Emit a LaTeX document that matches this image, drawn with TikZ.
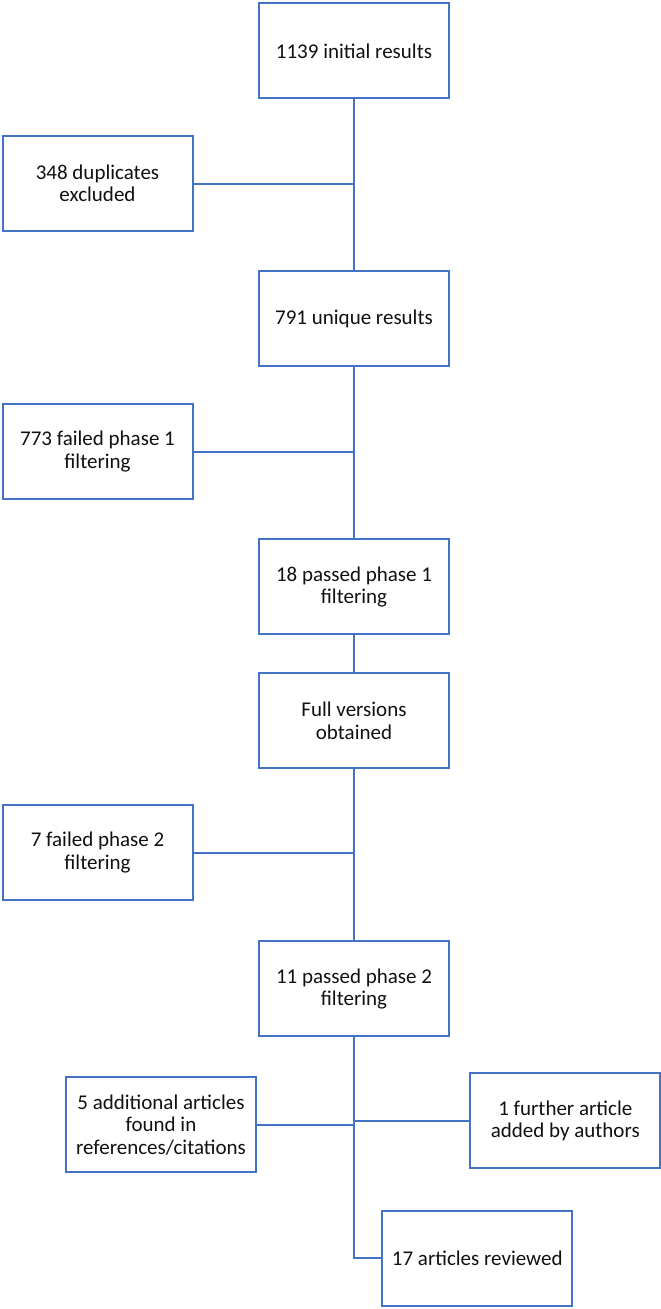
\documentclass[tikz,border=0pt]{standalone}
\usepackage{fontspec}
\setmainfont{Carlito}
\definecolor{boxblue}{HTML}{4472C4}
\definecolor{txt}{HTML}{111111}
\begin{document}
\begin{tikzpicture}[x=1pt,y=-1pt,
  box/.style={draw=boxblue,line width=2pt,fill=white,minimum width=190pt,minimum height=95pt,
    align=center,text=txt,font=\fontsize{21}{22.5}\selectfont,inner sep=2pt},
  link/.style={draw=boxblue,line width=2pt}]
\useasboundingbox (0,0) rectangle (661,1309);
\node[box] (b1) at (354,50.8) {1139 initial results};
\node[box] (b2) at (97.5,183.5) {348 duplicates\\excluded};
\node[box] (b3) at (354,318.5) {791 unique results};
\node[box] (b4) at (97.5,451.7) {773 failed phase 1\\filtering};
\node[box] (b5) at (354,586.8) {18 passed phase 1\\filtering};
\node[box] (b6) at (354,720.8) {Full versions\\obtained};
\node[box] (b7) at (97.5,852.5) {7 failed phase 2\\filtering};
\node[box] (b8) at (354,988.9) {11 passed phase 2\\filtering};
\node[box] (b9) at (161,1124.7) {5 additional articles\\found in\\references/citations};
\node[box] (b10) at (565.3,1120.8) {1 further article\\added by authors};
\node[box] (b11) at (477.2,1258) {17 articles reviewed};
\coordinate (t11) at (b8.south |- b11.west);
\draw[link] (b1.south) -- (b3.north);
\draw[link] (b2.east) -- (b2.east -| b1.south);
\draw[link] (b3.south) -- (b5.north);
\draw[link] (b4.east) -- (b4.east -| b3.south);
\draw[link] (b5.south) -- (b6.north);
\draw[link] (b6.south) -- (b8.north);
\draw[link] (b7.east) -- (b7.east -| b6.south);
\draw[link] (b8.south) -- (t11) -- (b11.west);
\draw[link] (b9.east) -- (b9.east -| b8.south);
\draw[link] (b10.west) -- (b10.west -| b8.south);
\end{tikzpicture}
\end{document}
